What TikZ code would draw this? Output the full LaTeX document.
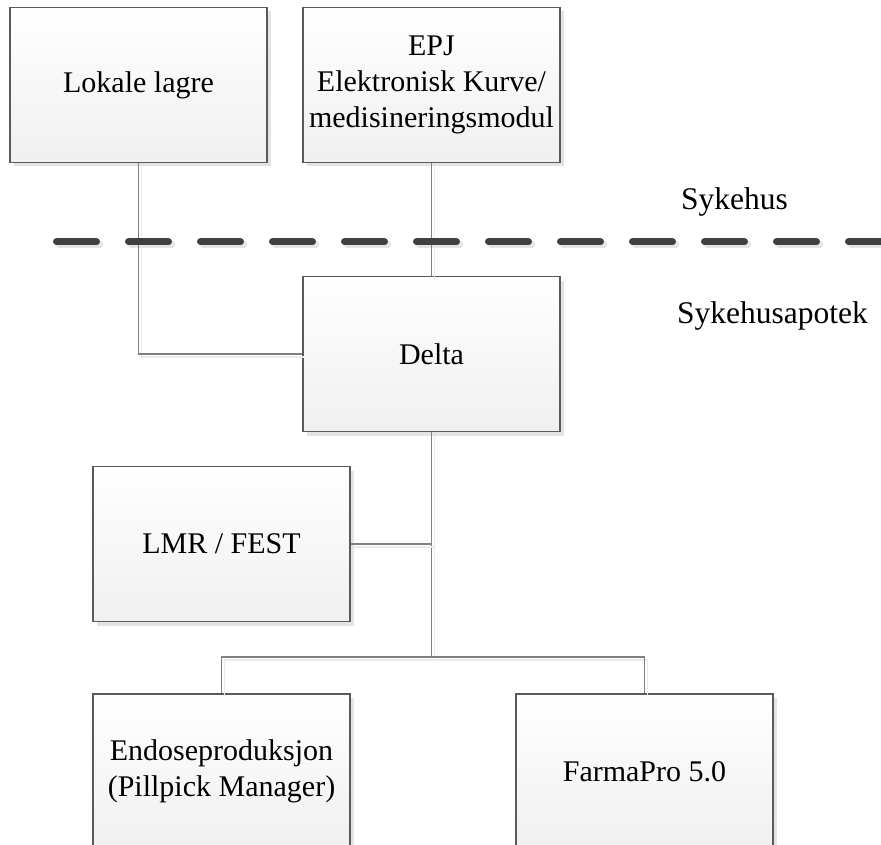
\documentclass[tikz,border=0pt]{standalone}
\usepackage{fontspec}
\setmainfont{Liberation Serif}
\usetikzlibrary{shadows}
\definecolor{boxline}{HTML}{5A5A5A}
\definecolor{conn}{HTML}{808080}
\definecolor{dashc}{HTML}{404040}
\begin{document}
\begin{tikzpicture}[x=1pt,y=-1pt,
  sysbox/.style={draw=boxline, line width=1.2pt, top color=white, bottom color=black!6,
    minimum width=257pt, minimum height=155pt, inner sep=0pt, align=center,
    font=\fontsize{30}{36}\selectfont,
    drop shadow={shadow xshift=4pt, shadow yshift=-4pt, fill=black!11, opacity=1}},
  link/.style={draw=conn, line width=1.2pt,
    preaction={draw=black!8, line width=1.2pt, transform canvas={shift={(3pt,-3pt)}}}},
  zone/.style={font=\fontsize{31.5}{36}\selectfont, anchor=base, inner sep=0pt}
]
\useasboundingbox (0,0) rectangle (881,845);
% boundary dashed line
\coordinate (d1) at (56.5,242);
\coordinate (d2) at (900,242);
\draw[black!10, line width=7pt, line cap=round, dash pattern=on 40pt off 32pt,
  transform canvas={shift={(3pt,-3pt)}}] (d1) -- (d2);
% nodes
\node[sysbox] (lok) at (138.5,85) {Lokale lagre};
\node[sysbox] (epj) at (431.5,85) {EPJ\\Elektronisk Kurve/\\medisineringsmodul};
\node[sysbox] (delta) at (431.5,354) {Delta};
\node[sysbox] (lmr) at (221.5,544) {LMR / FEST};
\node[sysbox] (endo) at (221.5,771.5) {Endoseproduksjon\\(Pillpick Manager)};
\node[sysbox] (farma) at (644.5,771.5) {FarmaPro 5.0};
\coordinate (j) at (431.5,657);
% connectors
\draw[link] (lok.south) |- (delta.west);
\draw[link] (epj.south) -- (delta.north);
\draw[link] (delta.south) -- (j);
\draw[link] (lmr.east) -- (lmr.east -| delta.south);
\draw[link] (j) -| (endo.north);
\draw[link] (j) -| (farma.north);
% dashed line on top
\draw[dashc, line width=7pt, line cap=round, dash pattern=on 40pt off 32pt] (d1) -- (d2);
% zone labels
\node[zone] (syk) at (734.5,210) {Sykehus};
\node[zone] (apo) at (772.5,323) {Sykehusapotek};
\end{tikzpicture}
\end{document}
